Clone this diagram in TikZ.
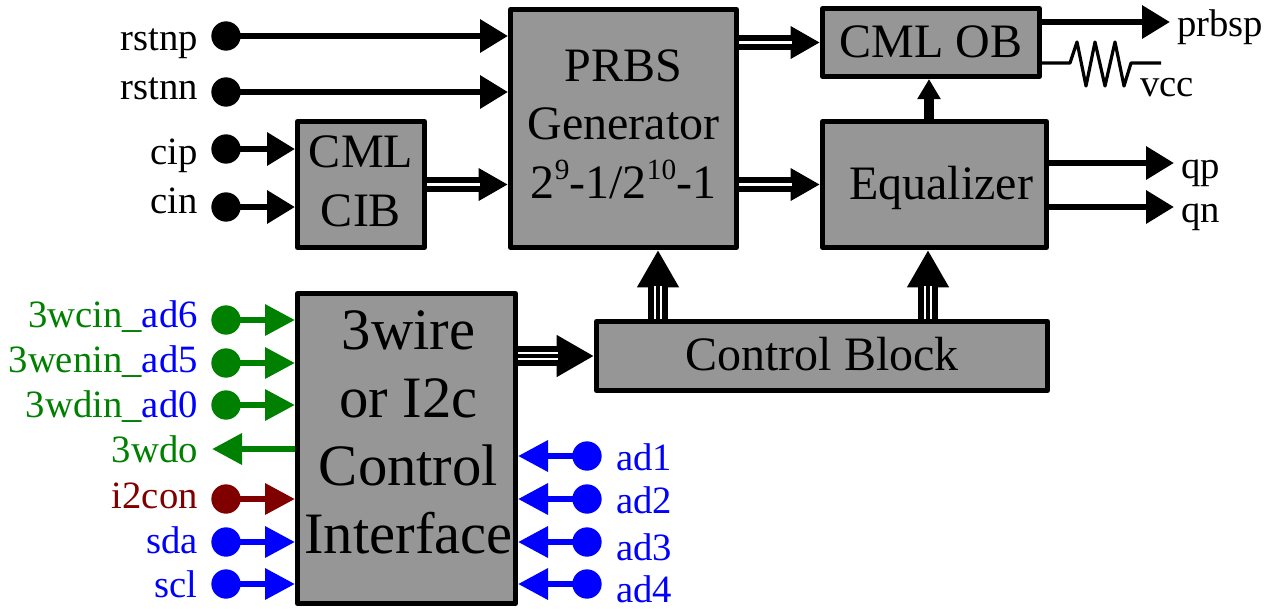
\documentclass[tikz,border=0pt]{standalone}
\usepackage{fontspec}
\setmainfont{Liberation Serif}
\usetikzlibrary{arrows.meta}
\definecolor{gbox}{HTML}{969696}
\definecolor{cgreen}{HTML}{008000}
\definecolor{cblue}{HTML}{0000FF}
\definecolor{cred}{HTML}{800000}
\tikzset{
  blockbox/.style={draw=black,fill=gbox,line width=3.75pt,line join=round,inner sep=0pt,text=black},
  big/.style={font=\fontsize{36}{44}\selectfont},
  huge/.style={font=\fontsize{44}{51}\selectfont},
  lab/.style={font=\fontsize{29}{30}\selectfont,inner sep=0pt},
  dot/.style={circle,fill=#1,draw=none,inner sep=0pt,minimum size=22pt},
  sigin/.style={line width=4.9pt,draw=#1,-{Triangle[length=22.5pt,width=22.5pt,color=#1,fill=#1]}},
  sigout/.style={line width=4.9pt,draw=black,-{Triangle[length=21pt,width=24pt]}},
  dblbus/.style={line width=11.25pt,draw=black,-{Triangle[length=22pt,width=23pt]}},
  dblgap/.style={line width=2.2pt,draw=white,shorten >=21pt},
  tribus/.style={line width=15.5pt,draw=black,-{Triangle[length=28pt,width=29.5pt]}},
  trigap/.style={line width=1.8pt,draw=white,double=black,double distance=3pt,shorten >=27pt},
}
\newcommand{\Lift}[2]{\raisebox{#1}[0pt][0pt]{\begin{tabular}{@{}c@{}}#2\end{tabular}}}
\newcommand{\Sup}[1]{\raisebox{14pt}{\fontsize{22}{22}\selectfont #1}}
\newcommand{\InArrow}[5]{% name colour y baseline text
  \node[dot=#2] (d#1) at (226,#3) {};
  \node[lab,anchor=base east,text=#2] (l#1) at (198,#4) {#5};
  \draw[sigin=#2] (d#1.center) -- (iface.west |- d#1.center);
}
\newcommand{\OutArrow}[4]{% name y baseline text (right side ad)
  \node[dot=cblue] (d#1) at (587,#2) {};
  \node[lab,anchor=base west,text=cblue] (l#1) at (616,#3) {#4};
  \draw[sigin=cblue] (d#1.center) -- (iface.east |- d#1.center);
}
\begin{document}
\begin{tikzpicture}[x=0.75pt,y=-0.75pt]
\useasboundingbox (0,0) rectangle (1271,608);
% blocks
\node[blockbox,big,minimum width=226*0.75pt,minimum height=238*0.75pt] (prbs) at (623.5,128.5) {\Lift{-6pt}{PRBS\\Generator\\2\Sup{9}-1/2\Sup{10}-1}};
\node[blockbox,big,minimum width=217*0.75pt,minimum height=68*0.75pt] (ob) at (931,42.5) {\Lift{-8.5pt}{CML OB}};
\node[blockbox,big,minimum width=224*0.75pt,minimum height=126*0.75pt] (eq) at (934.5,184.5) {\Lift{-8.5pt}{\hspace*{10pt}Equalizer}};
\node[blockbox,big,minimum width=127*0.75pt,minimum height=126*0.75pt] (cib) at (361,184.5) {\Lift{-7pt}{CML\\CIB}};
\node[blockbox,huge,minimum width=218*0.75pt,minimum height=310*0.75pt] (iface) at (406.5,448.5) {\hspace*{3pt}\Lift{1.8pt}{3wire\\or I2c\\Control\\Interface}};
\node[blockbox,big,minimum width=451*0.75pt,minimum height=69*0.75pt] (ctrl) at (822,356) {\Lift{-8.5pt}{Control Block}};
% black inputs
\node[dot=black] (drstnp) at (226,36) {};
\node[lab,anchor=base east] (lrstnp) at (198,50) {rstnp};
\draw[sigout] (drstnp.center) -- (prbs.west |- drstnp.center);
\node[dot=black] (drstnn) at (226,92) {};
\node[lab,anchor=base east] (lrstnn) at (198,99) {rstnn};
\draw[sigout] (drstnn.center) -- (prbs.west |- drstnn.center);
\node[dot=black] (dcip) at (226,149) {};
\node[lab,anchor=base east] (lcip) at (198,164) {cip};
\draw[sigout] (dcip.center) -- (cib.west |- dcip.center);
\node[dot=black] (dcin) at (226,207) {};
\node[lab,anchor=base east] (lcin) at (198,213) {cin};
\draw[sigout] (dcin.center) -- (cib.west |- dcin.center);
% buses
\draw[dblbus] (cib.east) -- (prbs.west |- cib.east);
\draw[dblgap] (cib.east) -- (prbs.west |- cib.east);
\draw[dblbus] (prbs.east |- ob.west) -- (ob.west);
\draw[dblgap] (prbs.east |- ob.west) -- (ob.west);
\draw[dblbus] (prbs.east |- eq.west) -- (eq.west);
\draw[dblgap] (prbs.east |- eq.west) -- (eq.west);
\draw[tribus] (iface.east |- ctrl.west) -- (ctrl.west);
\draw[trigap] (iface.east |- ctrl.west) -- (ctrl.west);
\coordinate (cx1) at (658,300);
\coordinate (cx2) at (928,300);
\draw[tribus] (cx1 |- ctrl.north) -- (cx1 |- prbs.south);
\draw[trigap] (cx1 |- ctrl.north) -- (cx1 |- prbs.south);
\draw[tribus] (cx2 |- ctrl.north) -- (cx2 |- eq.south);
\draw[trigap] (cx2 |- ctrl.north) -- (cx2 |- eq.south);
% equalizer to OB
\coordinate (cx3) at (929,100);
\draw[line width=7.5pt,-{Triangle[length=15pt,width=16.5pt]}] (cx3 |- eq.north) -- (cx3 |- ob.south);
% outputs
\node[lab,anchor=base west] (lprbsp) at (1177,36) {prbsp};
\node[lab,anchor=base west] (lvcc) at (1140,96) {vcc};
\node[lab,anchor=base west] (lqp) at (1181,178) {qp};
\node[lab,anchor=base west] (lqn) at (1181,222) {qn};
\coordinate (eprbsp) at (1170,22);
\coordinate (eqp) at (1174,163);
\coordinate (eqn) at (1174,207);
\draw[sigout] (ob.east |- eprbsp) -- (eprbsp);
\draw[sigout] (eq.east |- eqp) -- (eqp);
\draw[sigout] (eq.east |- eqn) -- (eqn);
\coordinate (rend) at (1161,63);
\draw[line width=2.4pt,line join=round] (ob.east |- rend) -- (1070,63) -- (1077,42) -- (1086,86) -- (1095,42) -- (1105,86) -- (1115,42) -- (1124,86) -- (1131,63) -- (rend);
% left control signals
\InArrow{a}{cgreen}{320}{327}{3wcin\_\textcolor{cblue}{ad6}}
\InArrow{b}{cgreen}{363}{372}{3wenin\_\textcolor{cblue}{ad5}}
\InArrow{c}{cgreen}{405}{417}{3wdin\_\textcolor{cblue}{ad0}}
\InArrow{e}{cred}{499}{508}{i2con}
\InArrow{f}{cblue}{542}{553}{sda}
\InArrow{g}{cblue}{584}{597}{scl}
\node[lab,anchor=base east,text=cgreen] (ldo) at (198,462) {3wdo};
\coordinate (edo) at (212,449);
\draw[line width=4.9pt,draw=cgreen,-{Triangle[length=22.5pt,width=22.5pt,color=cgreen,fill=cgreen]}] (iface.west |- edo) -- (edo);
% right address signals
\OutArrow{h}{456}{470}{ad1}
\OutArrow{i}{499}{513}{ad2}
\OutArrow{j}{542}{560}{ad3}
\OutArrow{k}{584}{602}{ad4}
\end{tikzpicture}
\end{document}
